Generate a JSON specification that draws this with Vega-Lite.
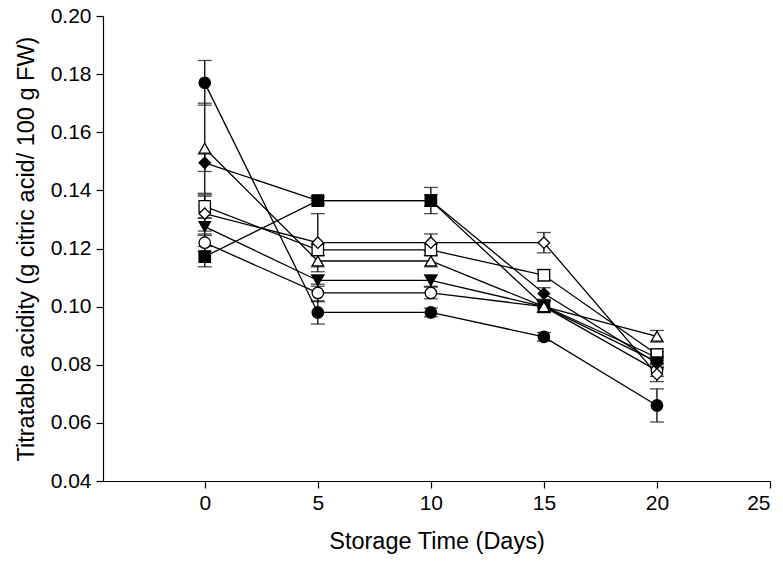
{
  "$schema": "https://vega.github.io/schema/vega-lite/v6.json",
  "autosize": "none",
  "width": 667,
  "height": 465,
  "padding": {"left": 103, "top": 16, "right": 13, "bottom": 83},
  "background": "white",
  "config": {
    "view": {"stroke": null},
    "font": "Liberation Sans",
    "axis": {"domainColor": "black", "tickColor": "black", "labelColor": "black", "titleColor": "black", "grid": false, "labelFont": "Liberation Sans", "titleFont": "Liberation Sans", "labelFontSize": 21, "titleFontSize": 23.5, "titleFontWeight": "normal", "tickSize": 7, "domainWidth": 1.2, "tickWidth": 1.2}
  },
  "data": {"values": [
    {"day": 0, "s": "FC", "v": 0.177, "e": 0.0077},
    {"day": 5, "s": "FC", "v": 0.098, "e": 0.004},
    {"day": 10, "s": "FC", "v": 0.098, "e": 0.0015},
    {"day": 15, "s": "FC", "v": 0.0896, "e": 0.0015},
    {"day": 20, "s": "FC", "v": 0.066, "e": 0.0057},
    {"day": 0, "s": "OC", "v": 0.122, "e": 0.003},
    {"day": 5, "s": "OC", "v": 0.1047, "e": 0.003},
    {"day": 10, "s": "OC", "v": 0.1047, "e": 0.002},
    {"day": 15, "s": "OC", "v": 0.1, "e": 0.002},
    {"day": 20, "s": "OC", "v": 0.078, "e": 0.002},
    {"day": 0, "s": "FS", "v": 0.1172, "e": 0.0035},
    {"day": 5, "s": "FS", "v": 0.1365, "e": 0.0015},
    {"day": 10, "s": "FS", "v": 0.1365, "e": 0.0045},
    {"day": 15, "s": "FS", "v": 0.1002, "e": 0.002},
    {"day": 20, "s": "FS", "v": 0.0825, "e": 0.002},
    {"day": 0, "s": "OS", "v": 0.1345, "e": 0.004},
    {"day": 5, "s": "OS", "v": 0.1195, "e": 0.002},
    {"day": 10, "s": "OS", "v": 0.1195, "e": 0.002},
    {"day": 15, "s": "OS", "v": 0.1108, "e": 0.002},
    {"day": 20, "s": "OS", "v": 0.0835, "e": 0.002},
    {"day": 0, "s": "FTD", "v": 0.1275, "e": 0.003},
    {"day": 5, "s": "FTD", "v": 0.109, "e": 0.002},
    {"day": 10, "s": "FTD", "v": 0.109, "e": 0.002},
    {"day": 15, "s": "FTD", "v": 0.1, "e": 0.002},
    {"day": 20, "s": "FTD", "v": 0.081, "e": 0.002},
    {"day": 0, "s": "OTU", "v": 0.1545, "e": 0.0155},
    {"day": 5, "s": "OTU", "v": 0.1157, "e": 0.002},
    {"day": 10, "s": "OTU", "v": 0.1157, "e": 0.002},
    {"day": 15, "s": "OTU", "v": 0.1, "e": 0.002},
    {"day": 20, "s": "OTU", "v": 0.0898, "e": 0.002},
    {"day": 0, "s": "FD", "v": 0.1495, "e": 0.003},
    {"day": 5, "s": "FD", "v": 0.1365, "e": 0.001},
    {"day": 10, "s": "FD", "v": 0.1365, "e": 0.002},
    {"day": 15, "s": "FD", "v": 0.1045, "e": 0.002},
    {"day": 20, "s": "FD", "v": 0.0805, "e": 0.002},
    {"day": 0, "s": "OD", "v": 0.132, "e": 0.006},
    {"day": 5, "s": "OD", "v": 0.122, "e": 0.010},
    {"day": 10, "s": "OD", "v": 0.122, "e": 0.003},
    {"day": 15, "s": "OD", "v": 0.122, "e": 0.0035},
    {"day": 20, "s": "OD", "v": 0.0767, "e": 0.0025}
  ]},
  "encoding": {
    "x": {"field": "day", "type": "quantitative", "scale": {"domain": [-4.5, 25], "nice": false, "zero": false}, "axis": {"values": [0, 5, 10, 15, 20, 25], "title": "Storage Time (Days)", "titlePadding": 16, "labelPadding": 4}},
    "y": {"field": "v", "type": "quantitative", "scale": {"domain": [0.04, 0.2], "nice": false, "zero": false}, "axis": {"values": [0.04, 0.06, 0.08, 0.1, 0.12, 0.14, 0.16, 0.18, 0.2], "format": ".2f", "title": "Titratable acidity (g citric acid/ 100 g FW)", "titlePadding": 12, "labelPadding": 5}}
  },
  "layer": [
    {
      "mark": {"type": "line", "color": "black", "strokeWidth": 1.3},
      "encoding": {"detail": {"field": "s"}, "order": {"field": "day"}}
    },
    {
      "mark": {"type": "errorbar", "ticks": {"size": 14, "color": "black", "thickness": 1.3}, "rule": {"color": "black", "strokeWidth": 1.3}},
      "encoding": {"yError": {"field": "e"}, "detail": {"field": "s"}}
    },
    {
      "mark": {"type": "point", "filled": true, "stroke": "black", "strokeWidth": 1.3, "size": 130, "opacity": 1},
      "encoding": {
        "shape": {"field": "s", "type": "nominal", "legend": null, "scale": {"domain": ["FC", "OC", "FS", "OS", "FTD", "OTU", "FD", "OD"], "range": ["circle", "circle", "square", "square", "triangle-down", "triangle-up", "diamond", "diamond"]}},
        "fill": {"field": "s", "type": "nominal", "legend": null, "scale": {"domain": ["FC", "OC", "FS", "OS", "FTD", "OTU", "FD", "OD"], "range": ["black", "white", "black", "white", "black", "white", "black", "white"]}}
      }
    }
  ]
}
